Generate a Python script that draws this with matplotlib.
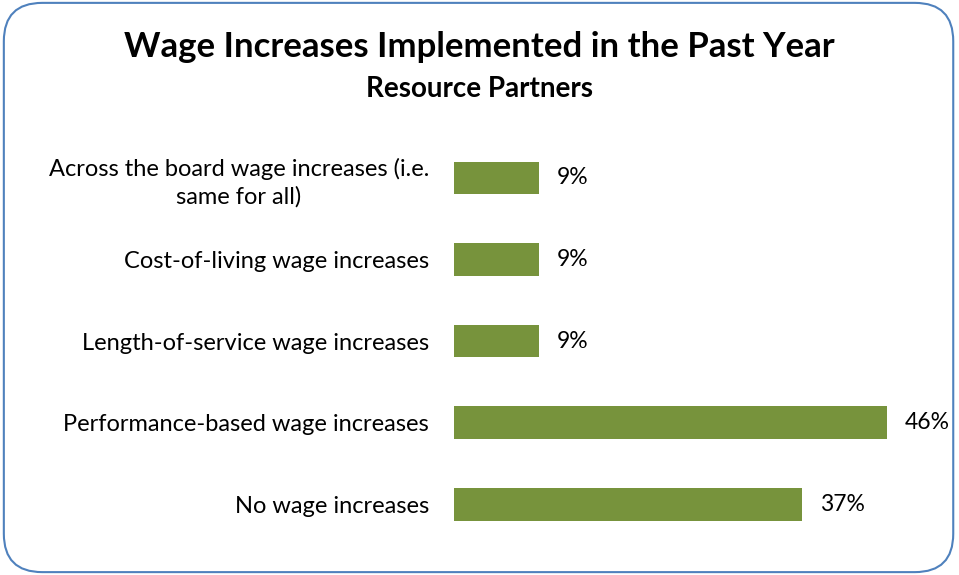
import matplotlib.pyplot as plt
from matplotlib.patches import FancyBboxPatch

categories = ['Across the board wage increases (i.e.\nsame for all)',
              'Cost-of-living wage increases',
              'Length-of-service wage increases',
              'Performance-based wage increases',
              'No wage increases']
values = [9, 9, 9, 46, 37]

plt.rcParams['font.family'] = ['Lato', 'DejaVu Sans']

fig = plt.figure(figsize=(9.59, 5.75), dpi=100)

# rounded frame around the chart
frame = FancyBboxPatch((0.004, 0.005), 0.99, 0.99, boxstyle='round,pad=0,rounding_size=0.04',
                       transform=fig.transFigure, facecolor='none', edgecolor='#4F81BD',
                       linewidth=1.5, mutation_aspect=959 / 575, zorder=-1)
fig.patches.append(frame)

fig.text(0.5, 0.918, 'Wage Increases Implemented in the Past Year', ha='center', va='center',
         fontsize=25, fontweight='bold')
fig.text(0.5, 0.846, 'Resource Partners', ha='center', va='center', fontsize=20, fontweight='bold')

ax = fig.add_axes([0.4734, 0.052, 0.4906, 0.7096])
ypos = list(range(len(categories)))
ax.barh(ypos, values, height=0.4, color='#77933C')
for y, v in zip(ypos, values):
    ax.text(v + 1.9, y, f'{v}%', va='center', ha='left', fontsize=16.5)

ax.set_xlim(0, 50)
ax.set_ylim(len(categories) - 0.5, -0.5)
ax.set_yticks(ypos)
ax.set_yticklabels(categories, fontsize=17, ha='right', multialignment='center', linespacing=1.35)
ax.tick_params(axis='y', length=0, pad=18)
ax.set_xticks([])
for s in ax.spines.values():
    s.set_visible(False)
ax.patch.set_alpha(0)

fig.savefig('out.png', dpi=100)
